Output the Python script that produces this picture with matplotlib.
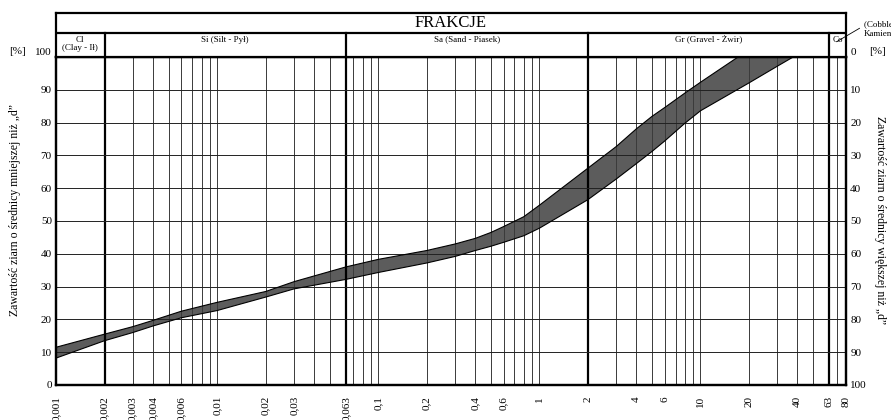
import numpy as np
import matplotlib
matplotlib.use("Agg")
import matplotlib.pyplot as plt

plt.rcParams['font.family'] = ['Liberation Serif', 'DejaVu Serif']

# grain diameter d [mm] and band limits [% passing]
d_upper = [0.001, 0.002, 0.003, 0.004, 0.006, 0.01, 0.02, 0.03, 0.063, 0.1,
           0.2, 0.3, 0.4, 0.5, 0.6, 0.8, 1, 2, 3, 4, 5, 6, 8, 10, 17.1]
upper = [11.5, 15.5, 17.8, 19.7, 22.5, 25.2, 28.5, 31.5, 36.0, 38.3,
         41.0, 43.0, 44.7, 46.5, 48.3, 51.3, 54.8, 66.1, 72.7, 78.1, 81.9, 84.6, 89.0, 92.3, 100]
d_lower = [0.001, 0.002, 0.003, 0.004, 0.006, 0.01, 0.02, 0.03, 0.063, 0.1,
           0.2, 0.3, 0.4, 0.5, 0.6, 0.8, 1, 2, 3, 4, 5, 6, 8, 10, 20, 30, 37.6]
lower = [8.2, 13.5, 16.0, 18.0, 20.5, 22.7, 26.8, 29.3, 32.2, 34.3,
         37.2, 39.2, 41.0, 42.3, 43.5, 45.5, 47.8, 56.5, 62.8, 67.5, 71.2, 74.4, 79.8, 83.6, 92.1, 97.2, 100]

# axis labels along d
tick_vals = [0.001, 0.002, 0.003, 0.004, 0.006, 0.01, 0.02, 0.03, 0.063, 0.1,
             0.2, 0.4, 0.6, 1, 2, 4, 6, 10, 20, 40, 63, 80]
tick_text = ["0,001", "0,002", "0,003", "0,004", "0,006", "0,01", "0,02", "0,03", "0,063", "0,1",
             "0,2", "0,4", "0,6", "1", "2", "4", "6", "10", "20", "40", "63", "80"]

# log paper lines and fraction limits
grid_lines = [0.003, 0.004, 0.005, 0.006, 0.007, 0.008, 0.009, 0.01, 0.02, 0.03, 0.04, 0.05,
              0.07, 0.08, 0.09, 0.1, 0.2, 0.3, 0.4, 0.5, 0.6, 0.7, 0.8, 0.9, 1,
              3, 4, 5, 6, 7, 8, 9, 10, 20, 30, 40, 50, 70]
frac_edges = [0.001, 0.002, 0.063, 2, 63, 80]
frac_names = ["Cl\n(Clay - Ił)", "Si (Silt - Pył)", "Sa (Sand - Piasek)", "Gr (Gravel - Żwir)", "Co"]

W, H = 891, 420
fig = plt.figure(figsize=(W / 100, H / 100), dpi=100)

x0, x1 = 56, 846
y_top, y_bot, y_hdr = 57, 385, 13
ax = fig.add_axes([x0 / W, 1 - y_bot / H, (x1 - x0) / W, (y_bot - y_top) / H])
ax.set_xscale('log')
ax.set_xlim(0.001, 80)
ax.set_ylim(0, 100)

# the sieve curve band: upper limit out, lower limit back
poly_x = list(d_upper) + [d_lower[-1]] + list(d_lower[::-1])
poly_y = list(upper) + [100] + list(lower[::-1])
ax.fill(poly_x, poly_y, color='#5c5c5c', zorder=1, lw=0)
ax.plot(d_upper, upper, color='black', lw=0.8, zorder=3)
ax.plot(d_lower, lower, color='black', lw=0.8, zorder=3)

for g in grid_lines:
    ax.axvline(g, color='#3a3a3a', lw=0.7, zorder=2)
for e in frac_edges[1:-1]:
    ax.axvline(e, color='black', lw=1.6, zorder=2)
for h in range(10, 100, 10):
    ax.axhline(h, color='#222222', lw=0.7, zorder=2)

for s in ax.spines.values():
    s.set_linewidth(1.6)

ax.set_xticks(tick_vals)
ax.set_xticklabels(tick_text, rotation=90, fontsize=8, va='top')
ax.xaxis.set_minor_locator(matplotlib.ticker.NullLocator())
ax.tick_params(axis='x', length=0, pad=8)

ax.set_yticks(range(0, 101, 10))
ax.set_yticklabels([str(v) for v in range(0, 101, 10)], fontsize=8)
ax.tick_params(axis='y', length=0, pad=3)
ax.get_yticklabels()[-1].set_va('bottom')

ax2 = ax.twinx()
ax2.set_ylim(100, 0)
ax2.set_yticks(range(0, 101, 10))
ax2.set_yticklabels([str(v) for v in range(0, 101, 10)], fontsize=8)
ax2.tick_params(axis='y', length=0, pad=3)
ax2.get_yticklabels()[0].set_va('bottom')
for s in ax2.spines.values():
    s.set_linewidth(1.6)

fig.text(17 / W, 1 - 52 / H, "[%]", fontsize=8, ha='center', va='center')
fig.text(878 / W, 1 - 51 / H, "[%]", fontsize=8, ha='center', va='center')
fig.text(15 / W, 1 - 210 / H, "Zawartość ziarn o średnicy mniejszej niż „d”",
         rotation=90, fontsize=8.5, ha='center', va='center')
fig.text(880 / W, 1 - 220 / H, "Zawartość ziarn o średnicy większej niż „d”",
         rotation=-90, fontsize=8.5, ha='center', va='center')

# header with soil fractions
hdr = fig.add_axes([x0 / W, 1 - y_top / H, (x1 - x0) / W, (y_top - y_hdr) / H])
hdr.set_xscale('log')
hdr.set_xlim(0.001, 80)
hdr.set_ylim(0, y_top - y_hdr)
hdr.set_xticks([])
hdr.set_yticks([])
hdr.xaxis.set_minor_locator(matplotlib.ticker.NullLocator())
for s in hdr.spines.values():
    s.set_linewidth(1.6)
hdr.axhline(24, color='black', lw=1.6)
for e in frac_edges[1:-1]:
    hdr.plot([e, e], [0, 24], color='black', lw=1.6)
hdr.text(np.sqrt(0.001 * 80), 34, "FRAKCJE", fontsize=12, ha='center', va='center')
for i, name in enumerate(frac_names):
    xc = np.sqrt(frac_edges[i] * frac_edges[i + 1])
    hdr.text(xc, 21.5, name, fontsize=6.5, ha='center', va='top', linespacing=1.05)

hdr.plot([70, 97], [15.3, 28.7], color='black', lw=0.6, clip_on=False)
hdr.text(103, 28.5, "(Cobbles -\nKamienie)", fontsize=6.5, ha='left', va='center',
         linespacing=1.1, clip_on=False)

plt.savefig("out.png", dpi=100)
